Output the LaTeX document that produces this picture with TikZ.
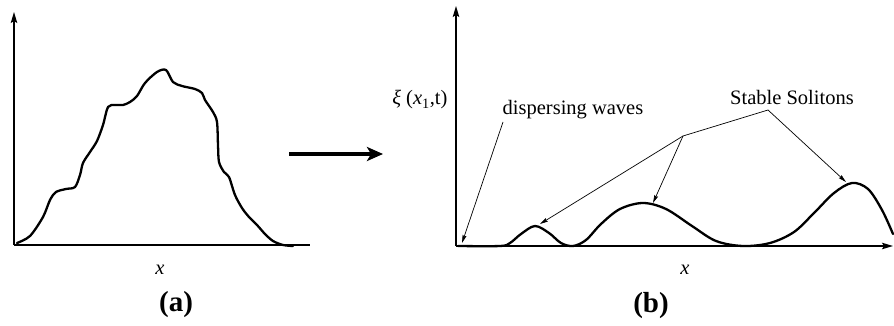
\documentclass[tikz,border=0pt]{standalone}
\usepackage{fontspec}
\setmainfont{Liberation Serif}
\usepackage{tikz}
\usetikzlibrary{positioning,arrows.meta}

\begin{document}
\begin{tikzpicture}[
  x=1pt,y=-1pt,
  font=\fontsize{20.5}{24}\selectfont,
  axis/.style={line width=1.3pt,-{Stealth[length=11pt,width=6.5pt,inset=2pt]}},
  wave/.style={line width=2.3pt,line join=round,line cap=round},
  pointer/.style={line width=0.7pt,-{Stealth[length=8pt,width=4pt,inset=1pt]}},
  caption/.style={font=\fontsize{29}{32}\selectfont\bfseries}]
  \useasboundingbox (0,0) rectangle (894,326);
  % panel (a)
  \coordinate (oa) at (14,245);
  \coordinate (ya) at (14,12);
  \coordinate (xa) at (310,245);
  \draw[axis] (oa) -- (ya);
  \draw[line width=1.3pt] (oa) -- (xa);
  \draw[wave] plot[smooth,tension=0.5] coordinates {
    (17,243) (30,236) (43,217) (50,200) (56,192) (66,189) (75,187) (80,175)
    (83,163) (90,152) (97,141) (103,125) (108,107) (115,105) (123,105)
    (130,102) (137,96) (145,83) (157,72) (166,70) (173,82) (182,86)
    (195,89) (202,93) (205,100) (213,112) (217,122) (218,145) (219,162)
    (224,172) (229,177) (235,195) (242,208) (249,217) (257,225) (265,234)
    (273,241) (283,245) (293,246)};
  \node (xlba) at (160,270) {\textit{x}};
  \node[caption] (capa) at (176,305) {(a)};
  % evolution arrow
  \coordinate (ev1) at (289,154);
  \coordinate (ev2) at (383,154);
  \draw[line width=3pt,-{Stealth[length=16pt,width=14pt,inset=4pt]}] (ev1) -- (ev2);
  % panel (b)
  \coordinate (ob) at (456,246);
  \coordinate (yb) at (456,6);
  \coordinate (xb) at (893,246);
  \draw[axis] (ob) -- (yb);
  \draw[axis] (ob) -- (xb);
  \draw[wave] plot[smooth,tension=0.55] coordinates {
    (458,246) (500,246) (510,243) (521,234) (535,226) (549,233) (561,243)
    (573,246) (586,240) (601,224) (620,209) (643,203) (666,209) (692,226)
    (716,241) (743,246) (770,243) (794,232) (814,213) (834,193) (852,183)
    (868,189) (882,210) (893,234)};
  \node[anchor=east] (xi) at (451,100) {\textit{ξ} (\textit{x}\textsubscript{1},t)};
  \node (xlbb) at (685,270) {\textit{x}};
  \node[caption] (capb) at (651,306) {(b)};
  % annotations
  \node (disp) at (573,110) {dispersing waves};
  \node (stab) at (792,97) {Stable Solitons};
  \coordinate (dtail) at (503,122);
  \coordinate (dhead) at (462,243);
  \coordinate (stail) at (768,110);
  \coordinate (sj) at (683,136);
  \coordinate (s1) at (540,224);
  \coordinate (s2) at (653,203);
  \coordinate (s3) at (846,182);
  \draw[pointer] (dtail) -- (dhead);
  \draw[line width=0.7pt] (stail) -- (sj);
  \draw[pointer] (sj) -- (s1);
  \draw[pointer] (sj) -- (s2);
  \draw[pointer] (stail) -- (s3);
\end{tikzpicture}
\end{document}
